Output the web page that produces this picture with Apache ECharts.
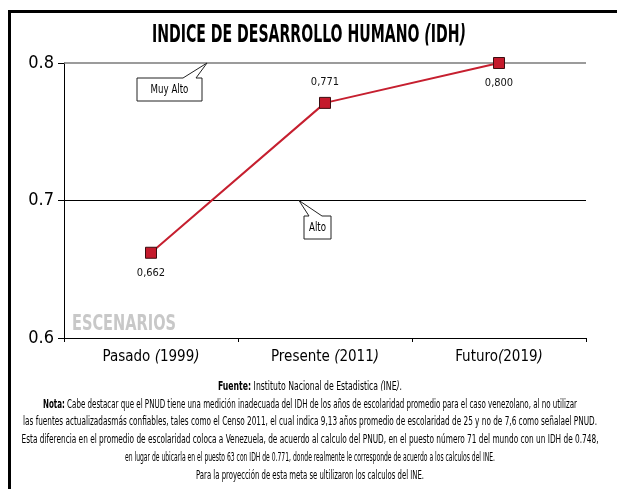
<!DOCTYPE html>
<html>
<head>
<meta charset="utf-8">
<script src="https://cdn.jsdelivr.net/npm/echarts@6/dist/echarts.min.js"></script>
<style>html,body{margin:0;padding:0;background:#fff}#c{width:617px;height:489px}</style>
</head>
<body>
<div id="c"></div>
<script>
const categories = ['Pasado (1999)', 'Presente (2011)', 'Futuro(2019)'];
const idhValues = [0.662, 0.771, 0.800];
const valueLabels = ['0,662', '0,771', '0,800'];
const labelPositions = ['bottom', 'top', 'bottom'];
const yMin = 0.6, yMax = 0.8, yStep = 0.1;
const thresholdValues = [0.8, 0.7];
const thresholdNames = ['Muy Alto', 'Alto'];
const titleText = 'INDICE DE DESARROLLO HUMANO {i|(}IDH{i|)}';
const sourceLines = [
  '{b|Fuente:} Instituto Nacional de Estadistica {i|(}INE{i|)}.',
  '{b|Nota:} Cabe destacar que el PNUD tiene una medición inadecuada del IDH de los años de escolaridad promedio para el caso venezolano, al no utilizar',
  'las fuentes actualizadasmás confiables, tales como el Censo 2011, el cual indica 9,13 años promedio de escolaridad de 25 y no de 7,6 como señalael PNUD.',
  'Esta diferencia en el promedio de escolaridad coloca a Venezuela, de acuerdo al calculo del PNUD, en el puesto número 71 del mundo con un IDH de 0.748,',
  'en lugar de ubicarla en el puesto 63 con IDH de 0.771, donde realmente le corresponde de acuerdo a los calculos del INE.',
  'Para la proyección de esta meta se ultilizaron los calculos del INE.'
];

const FONT = '"DejaVu Sans Condensed", "DejaVu Sans", sans-serif';
const chart = echarts.init(document.getElementById('c'), null, {renderer: 'canvas'});

const italicParen = s => s.replace(/\(/g, '{i|(}').replace(/\)/g, '{i|)}');

// measure rich-markup text width with canvas
const mctx = document.createElement('canvas').getContext('2d');
function measureRich(text, size, baseWeight) {
  let w = 0;
  const re = /\{(\w)\|([^}]*)\}/g;
  let last = 0, m;
  const seg = (s, weight, style) => {
    mctx.font = `${style} ${weight} ${size}px ${FONT}`;
    w += mctx.measureText(s).width;
  };
  while ((m = re.exec(text))) {
    if (m.index > last) seg(text.slice(last, m.index), baseWeight, 'normal');
    seg(m[2], m[1] === 'b' ? 'bold' : baseWeight, m[1] === 'i' ? 'italic' : 'normal');
    last = re.lastIndex;
  }
  if (last < text.length) seg(text.slice(last), baseWeight, 'normal');
  return w;
}

chart.setOption({
  animation: false,
  backgroundColor: '#fff',
  grid: {left: 64, right: 31, top: 63, bottom: 151, containLabel: false},
  xAxis: {
    type: 'category',
    data: categories,
    boundaryGap: true,
    axisLine: {lineStyle: {color: '#000', width: 1.2}},
    axisTick: {show: true, length: 4, lineStyle: {color: '#000'}},
    axisLabel: {
      interval: 0,
      margin: 12,
      fontFamily: FONT, fontSize: 15, color: '#000',
      formatter: v => italicParen(v),
      rich: {i: {fontFamily: FONT, fontSize: 15, fontStyle: 'italic', color: '#000'}}
    },
    splitLine: {show: false}
  },
  yAxis: {
    type: 'value',
    min: yMin, max: yMax, interval: yStep,
    axisLine: {show: true, lineStyle: {color: '#000', width: 1}},
    axisTick: {show: true, length: 6, lineStyle: {color: '#000'}},
    axisLabel: {
      margin: 10, fontFamily: FONT, fontSize: 18, color: '#000',
      formatter: v => v.toFixed(1)
    },
    splitLine: {show: false}
  },
  series: [{
    type: 'line',
    data: idhValues.map((v, i) => ({
      value: v,
      label: {position: labelPositions[i], formatter: valueLabels[i]}
    })),
    symbol: 'rect',
    symbolSize: 11,
    lineStyle: {color: '#c61f2f', width: 2},
    itemStyle: {color: '#c41a2c', borderColor: '#3b0d10', borderWidth: 1},
    label: {show: true, distance: 9, fontFamily: FONT, fontSize: 11, color: '#111'},
    z: 5,
    markLine: {
      silent: true,
      symbol: 'none',
      label: {show: false},
      data: thresholdValues.map((v, i) => ({
        yAxis: v,
        name: thresholdNames[i],
        lineStyle: {color: i === 0 ? '#7a7a7a' : '#000', width: i === 0 ? 1.6 : 1, type: 'solid'}
      })),
      z: 1
    }
  }]
});

const y08 = chart.convertToPixel({yAxisIndex: 0}, thresholdValues[0]);
const y07 = chart.convertToPixel({yAxisIndex: 0}, thresholdValues[1]);

const titleW = measureRich(titleText, 24, 'bold');
const escW = measureRich('ESCENARIOS', 21, 'bold');

const graphics = [
  {type: 'rect', shape: {x: 9.5, y: 11.5, width: 640, height: 500}, style: {fill: 'none', stroke: '#000', lineWidth: 3}, silent: true},
  {type: 'text', x: 309, y: 36, scaleX: 314 / titleW, style: {
    text: titleText, textAlign: 'center', textVerticalAlign: 'middle',
    fontFamily: FONT, fontSize: 24, fontWeight: 'bold', fill: '#000',
    rich: {i: {fontFamily: FONT, fontSize: 24, fontWeight: 'bold', fontStyle: 'italic', fill: '#000'}}
  }},
  {type: 'text', x: 72, y: 325, scaleX: 104 / escW, style: {
    text: 'ESCENARIOS', textVerticalAlign: 'middle', fontFamily: FONT, fontSize: 21, fontWeight: 'bold', fill: '#c8c8c8'
  }},
  {type: 'polygon', shape: {points: [[137, 78], [183, 78], [207, y08], [196, 78], [202, 78], [202, 101], [137, 101]]},
    style: {fill: '#fff', stroke: '#222', lineWidth: 1}, z: 10},
  {type: 'text', x: 169.5, y: 90, z: 11, scaleX: 0.8, style: {text: thresholdNames[0], textAlign: 'center', textVerticalAlign: 'middle', fontFamily: FONT, fontSize: 12, fill: '#000'}},
  {type: 'polygon', shape: {points: [[304, 216], [309, 216], [299, y07], [322, 216], [331, 216], [331, 239], [304, 239]]},
    style: {fill: '#fff', stroke: '#222', lineWidth: 1}, z: 10},
  {type: 'text', x: 317.5, y: 228, z: 11, scaleX: 0.8, style: {text: thresholdNames[1], textAlign: 'center', textVerticalAlign: 'middle', fontFamily: FONT, fontSize: 12, fill: '#000'}}
];

const lineYs = [387, 405, 422, 440, 458, 476];
const lineWidths = [184, 534, 574, 577, 370, 228];
sourceLines.forEach((t, i) => {
  const w = measureRich(t, 12, 'normal');
  graphics.push({type: 'text', x: 310, y: lineYs[i], scaleX: lineWidths[i] / w, style: {
    text: t, textAlign: 'center', textVerticalAlign: 'middle', fontFamily: FONT, fontSize: 12, fill: '#000',
    rich: {
      b: {fontFamily: FONT, fontSize: 12, fontWeight: 'bold', fill: '#000'},
      i: {fontFamily: FONT, fontSize: 12, fontStyle: 'italic', fill: '#000'}
    }
  }});
});

chart.setOption({graphic: graphics});
</script>
</body>
</html>
